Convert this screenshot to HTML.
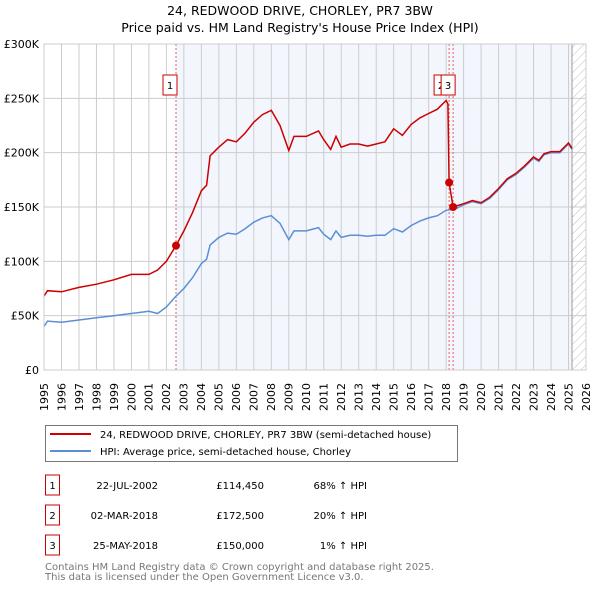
<!DOCTYPE html>
<html><head><meta charset="utf-8"><style>
body{margin:0;background:#fff;font-family:"Liberation Sans","DejaVu Sans",sans-serif;}
svg text{font-family:"DejaVu Sans","Liberation Sans",sans-serif;}
</style></head><body>
<svg width="600" height="590" viewBox="0 0 600 590">
<script>
var hpiYears=[1995,1995.2,1996,1997,1998,1999,2000,2001,2001.5,2002,2002.55,2003,2003.5,2004,2004.3,2004.5,2005,2005.5,2006,2006.5,2007,2007.5,2008,2008.5,2009,2009.3,2010,2010.7,2011,2011.4,2011.7,2012,2012.5,2013,2013.5,2014,2014.5,2015,2015.5,2016,2016.5,2017,2017.5,2018,2018.5,2019,2019.5,2020,2020.5,2021,2021.5,2022,2022.5,2023,2023.3,2023.6,2024,2024.5,2025,2025.2];
var hpiValues=[40,45,44,46,48,50,52,54,52,58,68,75,85,98,102,115,122,126,125,130,136,140,142,135,120,128,128,131,125,120,128,122,124,124,123,124,124,130,127,133,137,140,142,147,148,152,155,153,158,166,175,180,187,195,192,198,200,200,208,203];
var priceYears=[1995,1995.2,1996,1997,1998,1999,2000,2001,2001.5,2002,2002.55,2003,2003.5,2004,2004.3,2004.5,2005,2005.5,2006,2006.5,2007,2007.5,2008,2008.5,2009,2009.3,2010,2010.7,2011,2011.4,2011.7,2012,2012.5,2013,2013.5,2014,2014.5,2015,2015.5,2016,2016.5,2017,2017.5,2018,2018.1,2018.17,2018.4,2019,2019.5,2020,2020.5,2021,2021.5,2022,2022.5,2023,2023.3,2023.6,2024,2024.5,2025,2025.2];
var priceValues=[68,73,72,76,79,83,88,88,92,100,114.45,128,145,165,170,197,205,212,210,218,228,235,239,225,202,215,215,220,212,203,215,205,208,208,206,208,210,222,216,226,232,236,240,248,245,172.5,150,153,156,154,159,167,176,181,188,196,193,199,201,201,209,204];
var saleYears=[2002.55,2018.17,2018.4];
var saleValues=[114.45,172.5,150];
var saleLabels=["1","2","3"];
var yTicks=[0,50,100,150,200,250,300];
var yTickLabels=["£0","£50K","£100K","£150K","£200K","£250K","£300K"];
var xTicks=[1995,1996,1997,1998,1999,2000,2001,2002,2003,2004,2005,2006,2007,2008,2009,2010,2011,2012,2013,2014,2015,2016,2017,2018,2019,2020,2021,2022,2023,2024,2025,2026];
</script>
<g id="plot"></g>
<text x="300" y="15" text-anchor="middle" font-size="12.5" fill="#000">24, REDWOOD DRIVE, CHORLEY, PR7 3BW</text>
<text x="300" y="32" text-anchor="middle" font-size="12.5" fill="#000">Price paid vs. HM Land Registry's House Price Index (HPI)</text>
<g>
<rect x="45.5" y="425.5" width="412" height="36" fill="#fff" stroke="#777"/>
<line x1="50" y1="434" x2="91" y2="434" stroke="#cc0000" stroke-width="2"/>
<text x="100" y="438" font-size="10">24, REDWOOD DRIVE, CHORLEY, PR7 3BW (semi-detached house)</text>
<line x1="50" y1="451" x2="91" y2="451" stroke="#5b8fd4" stroke-width="2"/>
<text x="100" y="455" font-size="10">HPI: Average price, semi-detached house, Chorley</text>
</g>
<g id="table" font-size="10"></g>
<text x="45" y="570" font-size="10" fill="#777">Contains HM Land Registry data © Crown copyright and database right 2025.</text>
<text x="45" y="580" font-size="10" fill="#777">This data is licensed under the Open Government Licence v3.0.</text>
<script>
(function(){
var NS="http://www.w3.org/2000/svg";
var X0=44,X1=586,Y0=370,Y1=44;
function xs(v){return X0+(v-1995)/(2026-1995)*(X1-X0);}
function ys(v){return Y0-(v/300)*(Y0-Y1);}
var g=document.getElementById('plot');
function mk(t,a,p){var e=document.createElementNS(NS,t);for(var k in a)e.setAttribute(k,a[k]);(p||g).appendChild(e);return e;}
var defs=mk('defs',{});
var pat=mk('pattern',{id:'hatch',width:6,height:6,patternUnits:'userSpaceOnUse',patternTransform:'rotate(45)'},defs);
mk('line',{x1:0,y1:0,x2:0,y2:6,stroke:'#bbb','stroke-width':1},pat);
var sh=mk('rect',{x:xs(saleYears[0]),y:Y1,width:xs(2025.2)-xs(saleYears[0]),height:Y0-Y1,fill:'#eef3fc',opacity:0.7});


var ht=mk('rect',{x:xs(2025.2),y:Y1,width:X1-xs(2025.2),height:Y0-Y1,fill:'url(#hatch)'});


xTicks.forEach(function(t){
 var l=mk('line',{x1:xs(t),y1:Y1,x2:xs(t),y2:Y0,stroke:'#ccc','stroke-width':1});
 
 
 var tx=mk('text',{x:xs(t),y:383,'text-anchor':'end','font-size':11,transform:'rotate(-90 '+xs(t)+' 383)',dy:'0.35em'});
 tx.textContent=t;
 
 
});
yTicks.forEach(function(t,i){
 var l=mk('line',{x1:X0,y1:ys(t),x2:X1,y2:ys(t),stroke:'#ccc','stroke-width':1});
 
 
 var tx=mk('text',{x:39,y:ys(t)+4,'text-anchor':'end','font-size':11});
 tx.textContent=yTickLabels[i];
 
 
});
var vl=mk('line',{x1:xs(2025.2),y1:Y1,x2:xs(2025.2),y2:Y0,stroke:'#999','stroke-width':1});


saleYears.forEach(function(s){
 var l=mk('line',{x1:xs(s),y1:Y1,x2:xs(s),y2:Y0,stroke:'#e06060','stroke-width':1,'stroke-dasharray':'2,2'});
 
 
});
function path(xa,va,col,name){
 var d=xa.map(function(x,i){return (i?'L':'M')+xs(x).toFixed(1)+','+ys(va[i]).toFixed(1);}).join('');
 var p=mk('path',{d:d,fill:'none',stroke:col,'stroke-width':1.5});
 
 
}
path(hpiYears,hpiValues,'#5b8fd4','hpi-line');
path(priceYears,priceValues,'#cc0000','price-paid-line');
saleYears.forEach(function(s,i){
 var c=mk('circle',{cx:xs(s),cy:ys(saleValues[i]),r:4,fill:'#cc0000'});
 
 
});
var boxX=[xs(saleYears[0])-6,xs(saleYears[1])-8,xs(saleYears[2])-5];
[0,1,2].forEach(function(i){
 var r=mk('rect',{x:boxX[i]-7,y:75,width:14,height:20,fill:'#fff',stroke:'#cc0000'});
 
 
 var t=mk('text',{x:boxX[i],y:89,'text-anchor':'middle','font-size':10});
 t.textContent=saleLabels[i];
 
 
});
var rb=mk('rect',{x:X0,y:Y1,width:X1-X0,height:Y0-Y1,fill:'none',stroke:'#ccc'});


var tb=document.getElementById('table');
var dates=["22-JUL-2002","02-MAR-2018","25-MAY-2018"];
var prices=["£114,450","£172,500","£150,000"];
var rel=["68% ↑ HPI","20% ↑ HPI","1% ↑ HPI"];
[0,1,2].forEach(function(i){
 var y=483+i*30;
 var r=mk('rect',{x:45.5,y:y-8,width:14,height:20,fill:'#fff',stroke:'#cc0000'},tb);
 
 
 var t=mk('text',{x:52.5,y:y+6,'text-anchor':'middle'},tb);t.textContent=saleLabels[i];
 
 
 var d=mk('text',{x:158,y:y+6,'text-anchor':'end'},tb);d.textContent=dates[i];
 
 
 var p=mk('text',{x:264,y:y+6,'text-anchor':'end'},tb);p.textContent=prices[i];
 
 
 var h=mk('text',{x:367,y:y+6,'text-anchor':'end'},tb);h.textContent=rel[i];
 
 
});
})();
</script>
</svg>
</body></html>
